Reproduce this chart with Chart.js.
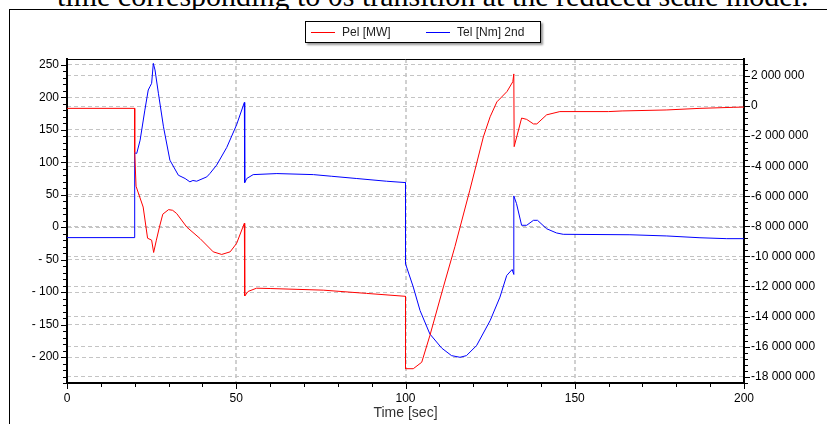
<!DOCTYPE html>
<html lang="en">
<head>
  <meta charset="UTF-8" />
  <title>Pel / Tel</title>
  <style>
    body {
      margin: 0;
      background: #fff;
      width: 827px;
      height: 424px;
      overflow: hidden;
      position: relative;
      font-family: 'Liberation Sans', Arial, sans-serif;
    }
    .titulo {
      position: absolute;
      left: 57px;
      top: -19px;
      font: 30px/30px 'Liberation Serif', 'Times New Roman', serif;
      white-space: nowrap;
      color: #000;
    }
    .marco {
      position: absolute;
      left: 9px;
      top: 9px;
      width: 900px;
      height: 500px;
      border-left: 1px solid #000;
      border-top: 1px solid #000;
      background: #fff;
    }
    #grafica { position: absolute; left: 0; top: 0; }
    .leyenda {
      position: absolute;
      left: 305px;
      top: 21px;
      width: 234px;
      height: 20px;
      border: 1px solid #000;
      background: #fff;
      box-shadow: 2px 2px 2px #999;
      font-size: 12px;
      color: #222;
    }
    .leyenda span { position: absolute; top: 3px; }
    .leyenda i { position: absolute; top: 10px; width: 24px; height: 1px; }
  </style>
</head>
<body>
  <div class="titulo">time corresponding to 0s transition at the reduced scale model.</div>
  <div class="marco"></div>
  <canvas id="grafica" width="827" height="424"></canvas>
  <div class="leyenda" id="leyenda"></div>
  <script src="https://cdn.jsdelivr.net/npm/chart.js"></script>
  <script>
    // Pel [MW] (eje izquierdo)
    const tiempoPel = [0, 20, 20, 20.4, 22.5, 23.8, 25, 25.6, 26.4, 27.3, 28.3, 30, 31.2, 32.4, 35.4, 39.3, 43.2, 45.7,
      48.2, 50.1, 52.4, 52.5, 53.5, 56, 60, 75.7, 88.5, 100, 100, 102.3, 104.8, 107.2, 111.2, 114.6, 119, 123, 125,
      127, 130, 131.7, 132, 132.1, 134.3, 135.8, 137.8, 138.8, 141.7, 145.6, 160, 164, 177, 187, 197, 200];
    const pel = [183, 183, 115, 63, 31, -17, -20, -39, -20, 0, 20, 27, 26, 21, 0, -17.5, -38, -42,
      -38, -25, 6, -106, -99, -94, -94.5, -97, -102, -106.5, -218, -218, -208, -167, -92, -30, 57, 139, 170,
      193, 209, 224, 236, 124, 168, 166, 159, 159, 173, 178, 178, 179, 180.5, 183, 184.6, 185];

    // Tel [Nm] 2nd (eje derecho)
    const tiempoTel = [0, 20, 20, 20.6, 21.6, 23, 24, 24.5, 25, 25.5, 26, 27, 28.5, 30.4, 32.9, 34.9, 36.3, 37.2, 38.3,
      41.3, 42.2, 44.2, 47.2, 50.1, 52.4, 52.5, 53.1, 55, 62, 72.8, 78.2, 85.6, 94.4, 100, 100, 102.3, 104.3,
      107.2, 110.7, 113.6, 116.1, 118, 121, 125, 127.9, 129.9, 131.5, 132, 132, 132.8, 134.3, 135.8, 137.8, 139,
      141.7, 144.6, 146.6, 166.3, 177.2, 187, 194.9, 200];
    const tel = [-8750000, -8750000, -3110000, -3150000, -2270000, -270000, 1070000, 1290000, 1510000, 2840000, 2400000,
      850000, -1380000, -3600000, -4600000, -4820000, -5040000, -4950000, -5000000,
      -4710000, -4490000, -3930000, -2750000, -1250000, 240000, -5090000, -4820000, -4560000, -4490000, -4560000,
      -4670000, -4820000, -5000000, -5090000, -10490000, -12040000, -13600000,
      -15160000, -16100000, -16600000, -16710000, -16600000, -15930000, -14270000, -12710000, -11270000, -10870000,
      -11200000, -5980000, -6490000, -7930000, -7930000, -7600000, -7600000,
      -8160000, -8440000, -8530000, -8560000, -8640000, -8760000, -8820000, -8820000];

    const ticksX = [0, 50, 100, 150, 200];
    const ticksIzq = [250, 200, 150, 100, 50, 0, -50, -100, -150, -200];
    const ticksDer = [2000000, 0, -2000000, -4000000, -6000000, -8000000, -10000000, -12000000, -14000000, -16000000, -18000000];

    const puntos = (xs, ys) => xs.map((x, i) => ({ x: x, y: ys[i] }));
    const miles = v => v === 0 ? '0' : (v < 0 ? '-' : '') + String(Math.abs(v)).replace(/\B(?=(\d{3})+(?!\d))/g, ' ');
    const fuenteTick = { family: "'Liberation Sans', Arial, sans-serif", size: 12 };

    const marcasEjes = {
      id: 'marcasEjes',
      afterDraw(chart) {
        const { ctx, chartArea: a, scales } = chart;
        ctx.save();
        ctx.strokeStyle = '#000';
        ctx.lineWidth = 1;
        ctx.beginPath();
        ctx.moveTo(a.left, a.top + 0.5);
        ctx.lineTo(a.right, a.top + 0.5);
        for (let v = 0; v <= 200; v += 10) {
          const x = Math.round(scales.x.getPixelForValue(v)) + 0.5;
          const l = v % 50 === 0 ? 6 : 4;
          ctx.moveTo(x, a.bottom);
          ctx.lineTo(x, a.bottom + l);
        }
        for (let v = -240; v <= 250; v += 10) {
          const y = Math.round(scales.y.getPixelForValue(v)) + 0.5;
          const l = v % 50 === 0 ? 6 : 4;
          ctx.moveTo(a.left - l, y);
          ctx.lineTo(a.left, y);
        }
        for (let k = -46; k <= 7; k++) {
          const y = Math.round(scales.y2.getPixelForValue(k * 400000)) + 0.5;
          const l = k % 5 === 0 ? 6 : 4;
          ctx.moveTo(a.right, y);
          ctx.lineTo(a.right + l, y);
        }
        ctx.stroke();
        ctx.restore();
      }
    };

    const grafica = new Chart(document.getElementById('grafica'), {
      type: 'line',
      data: {
        datasets: [
          { label: 'Pel [MW]', data: puntos(tiempoPel, pel), borderColor: '#ff0000', yAxisID: 'y' },
          { label: 'Tel [Nm] 2nd', data: puntos(tiempoTel, tel), borderColor: '#0000ff', yAxisID: 'y2' }
        ]
      },
      options: {
        responsive: false,
        animation: false,
        layout: { padding: { top: 59, left: 0, right: 0, bottom: 0 } },
        elements: {
          line: { borderWidth: 1, tension: 0 },
          point: { radius: 0 }
        },
        scales: {
          x: {
            type: 'linear',
            min: 0,
            max: 200,
            afterBuildTicks: s => { s.ticks = ticksX.map(v => ({ value: v })); },
            afterFit: s => { s.height = 41; },
            ticks: { color: '#000', font: fuenteTick, padding: 8, maxRotation: 0 },
            grid: { color: '#d0d0d0', lineWidth: 2, drawTicks: false },
            border: { color: '#000', width: 2, dash: [4, 3] },
            title: { display: true, text: 'Time [sec]', color: '#333', font: { family: "'Liberation Sans', Arial, sans-serif", size: 14 }, padding: { top: 0, bottom: 2 } }
          },
          y: {
            position: 'left',
            min: -240,
            max: 259,
            afterBuildTicks: s => { s.ticks = ticksIzq.map(v => ({ value: v })); },
            afterFit: s => { s.width = 67; },
            ticks: { color: '#000', font: fuenteTick, padding: 8, callback: v => v < 0 ? '- ' + (-v) : String(v) },
            grid: { color: '#c4c4c4', lineWidth: 1, drawTicks: false },
            border: { color: '#000', width: 2, dash: [4, 3] }
          },
          y2: {
            position: 'right',
            min: -18420000,
            max: 3130000,
            afterBuildTicks: s => { s.ticks = ticksDer.map(v => ({ value: v })); },
            afterFit: s => { s.width = 83; },
            ticks: { color: '#000', font: fuenteTick, padding: 7, callback: miles },
            grid: { color: '#c4c4c4', lineWidth: 1, drawTicks: false },
            border: { color: '#000', width: 2, dash: [4, 3] }
          }
        },
        plugins: {
          legend: { display: false },
          tooltip: { enabled: false }
        }
      },
      plugins: [marcasEjes]
    });

    // leyenda en caja, como en el original
    const leyenda = document.getElementById('leyenda');
    const posiciones = [{ linea: 5, texto: 36 }, { linea: 120, texto: 151 }];
    grafica.data.datasets.forEach((d, i) => {
      const p = posiciones[i];
      leyenda.insertAdjacentHTML('beforeend',
        `<i style="left:${p.linea}px;background:${d.borderColor}"></i><span style="left:${p.texto}px">${d.label}</span>`);
    });
  </script>
</body>
</html>
